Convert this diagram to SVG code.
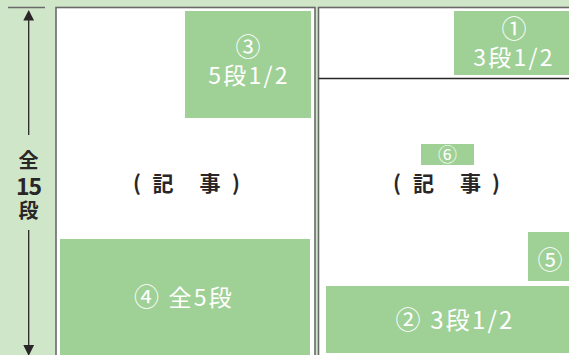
<svg xmlns="http://www.w3.org/2000/svg" width="569" height="355" viewBox="0 0 569 355">
<style>
.page{fill:#ffffff;stroke:#6a6a6a;stroke-width:1.6}
.box{fill:#9fd197}
.wt{fill:#ffffff;font-family:"Noto Sans CJK JP","Noto Sans",sans-serif;text-anchor:middle}
.dk{fill:#2a2627;font-family:"Noto Sans CJK JP","Noto Sans",sans-serif;text-anchor:middle;font-weight:700}
.ln{stroke:#2a2627;stroke-width:1.3;fill:none}
</style>
<rect x="0" y="0" width="569" height="355" fill="#d0e6c8"/>
<g id="left-page">
<rect class="page" x="56" y="7.5" width="259" height="360"/>
</g>
<g id="right-page">
<rect class="page" x="318.5" y="7.5" width="260" height="360"/>
<line x1="318.5" y1="78.5" x2="569" y2="78.5" stroke="#2a2627" stroke-width="1.6"/>
</g>
<g id="box3">
<rect class="box" x="185" y="11" width="126" height="107"/>
<text class="wt" x="248" y="55.5" font-size="25">③</text>
<text class="wt" x="249" y="83.5" font-size="23" letter-spacing="2.2">5段1/2</text>
</g>
<g id="box1">
<rect class="box" x="454" y="11" width="115" height="64"/>
<text class="wt" x="514" y="37.5" font-size="25">①</text>
<text class="wt" x="514" y="65.5" font-size="23" letter-spacing="2.2">3段1/2</text>
</g>
<g id="box4">
<rect class="box" x="60" y="239" width="250" height="116"/>
<text class="wt" x="184" y="306" font-size="23" letter-spacing="2.2"><tspan font-size="25">④</tspan> 全5段</text>
</g>
<g id="box2">
<rect class="box" x="326" y="286" width="243" height="67"/>
<text class="wt" x="455" y="328.5" font-size="24" letter-spacing="2.2"><tspan font-size="25">②</tspan> 3段1/2</text>
</g>
<g id="box5">
<rect class="box" x="528" y="232" width="41" height="49"/>
<text class="wt" x="550" y="268.5" font-size="25">⑤</text>
</g>
<g id="box6">
<rect class="box" x="421" y="144" width="53" height="21"/>
<text class="wt" x="447.5" y="162" font-size="19">⑥</text>
</g>
<g id="article-left">
<text class="dk" font-size="21" y="190.5"><tspan x="137">(</tspan><tspan x="163">記</tspan><tspan x="210">事</tspan><tspan x="236">)</tspan></text>
</g>
<g id="article-right">
<text class="dk" font-size="21" y="190.5"><tspan x="397">(</tspan><tspan x="423.5">記</tspan><tspan x="470.5">事</tspan><tspan x="496">)</tspan></text>
</g>
<g id="scale">
<line x1="8" y1="7.5" x2="45" y2="7.5" stroke="#6a6a6a" stroke-width="1.6"/>
<text class="dk" x="28.5" y="168" font-size="20">全</text>
<text class="dk" x="28.5" y="194.5" font-size="23" letter-spacing="-1">15</text>
<text class="dk" x="28.5" y="218" font-size="20">段</text>
</g>
<g id="connectors">
<line class="ln" x1="28.7" y1="14" x2="28.7" y2="135"/>
<line class="ln" x1="28.7" y1="230" x2="28.7" y2="348"/>
<polygon points="28.7,10 23.3,20.5 34.1,20.5" fill="#2a2627"/>
<polygon points="28.7,356 23.3,345 34.1,345" fill="#2a2627"/>
</g>
</svg>
